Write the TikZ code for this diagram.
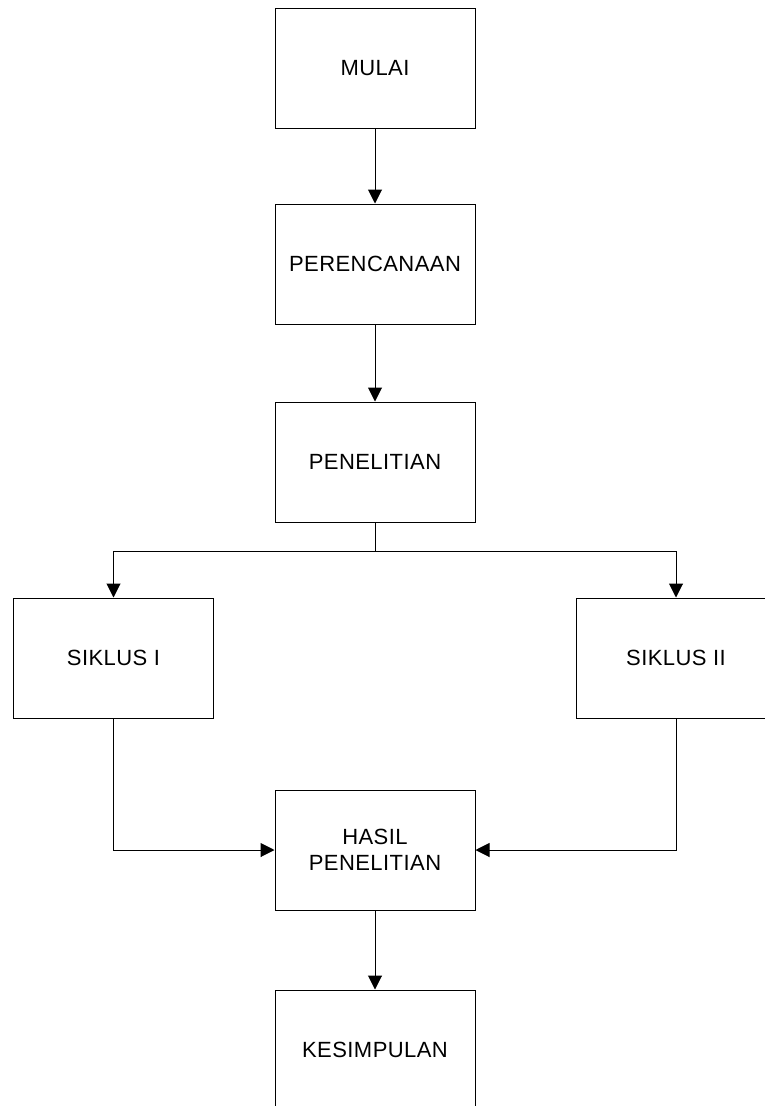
\documentclass[tikz,border=0pt]{standalone}
\usepackage{fontspec}
\setmainfont{Liberation Sans}[LetterSpace=2]
\usetikzlibrary{arrows.meta}
\begin{document}
\begin{tikzpicture}[x=1pt,y=-1pt,
  box/.style={draw=black,line width=1pt,minimum width=200pt,minimum height=120pt,inner sep=0pt,align=center,font=\fontsize{22}{26.5}\selectfont},
  conn/.style={line width=1pt,-{Triangle[length=14pt,width=14pt]}},
  plain/.style={line width=1pt}]
\useasboundingbox (0,0) rectangle (765,1106);
\clip (0,0) rectangle (765,1106);
\node[box] (mulai) at (375,68) {MULAI};
\node[box] (renc) at (375,264) {PERENCANAAN};
\node[box] (pen) at (375,462) {PENELITIAN};
\node[box] (s1) at (113.5,658) {SIKLUS I};
\node[box] (s2) at (676,658) {SIKLUS II};
\node[box] (hasil) at (375,850) {HASIL\\PENELITIAN};
\node[box] (kes) at (375,1050) {KESIMPULAN};
\coordinate (br) at (375,551);
\draw[conn] (mulai.south) -- (renc.north);
\draw[conn] (renc.south) -- (pen.north);
\draw[plain] (pen.south) -- (br);
\draw[conn] (br) -| (s1.north);
\draw[conn] (br) -| (s2.north);
\draw[conn] (s1.south) |- (hasil.west);
\draw[conn] (s2.south) |- (hasil.east);
\draw[conn] (hasil.south) -- (kes.north);
\end{tikzpicture}
\end{document}
